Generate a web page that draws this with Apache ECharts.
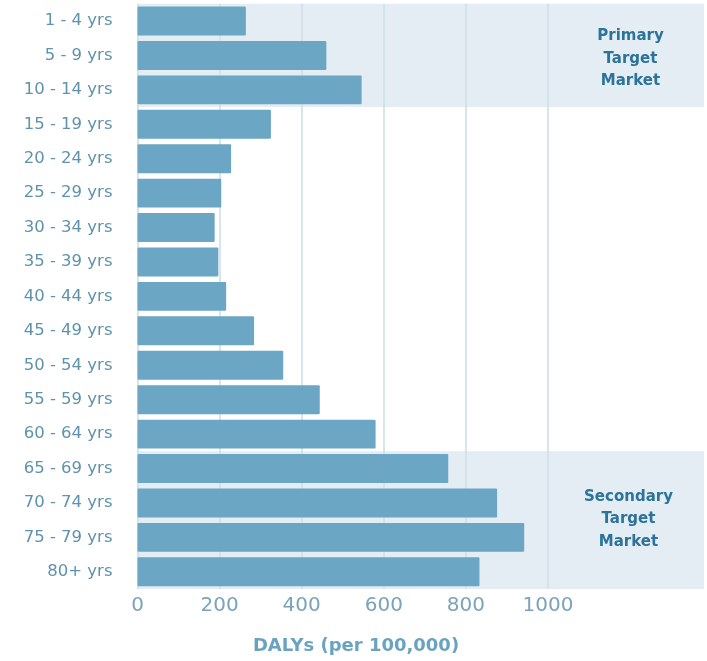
<!DOCTYPE html>
<html>
<head>
<meta charset="utf-8">
<script src="https://cdn.jsdelivr.net/npm/echarts@6/dist/echarts.min.js"></script>
<style>html,body{margin:0;padding:0;background:#fff;}#c{width:707px;height:661px;}</style>
</head>
<body>
<div id="c"></div>
<script>
const categories = ['1 - 4 yrs','5 - 9 yrs','10 - 14 yrs','15 - 19 yrs','20 - 24 yrs','25 - 29 yrs','30 - 34 yrs','35 - 39 yrs','40 - 44 yrs','45 - 49 yrs','50 - 54 yrs','55 - 59 yrs','60 - 64 yrs','65 - 69 yrs','70 - 74 yrs','75 - 79 yrs','80+ yrs'];
const dalys = [264, 460, 546, 325, 228, 204, 188, 197, 216, 284, 355, 444, 580, 757, 876, 942, 833];
const gridValues = [0, 200, 400, 600, 800, 1000];
const xMax = 1380;
// zones: [startIndex, endIndex (exclusive), label]
const primaryZone = [0, 3, 'Primary\nTarget\nMarket'];
const secondaryZone = [13, 17, 'Secondary\nTarget\nMarket'];
const titleText = 'DALYs (per 100,000)';

const chart = echarts.init(document.getElementById('c'), null, {renderer: 'canvas'});
const zoneLabel = (pos) => ({
  show: true,
  position: pos,
  align: 'center',
  verticalAlign: 'middle',
  color: '#2b7399',
  fontFamily: 'DejaVu Sans',
  fontWeight: 'bold',
  fontSize: 15,
  lineHeight: 22.5
});
chart.setOption({
  animation: false,
  title: {
    text: titleText,
    left: 351,
    top: 632,
    textAlign: 'center',
    textStyle: {color: '#6aa3c2', fontFamily: 'DejaVu Sans', fontWeight: 'bold', fontSize: 18}
  },
  grid: {left: 137.5, right: 0, top: 3.8, bottom: 72, containLabel: false},
  xAxis: {
    type: 'value', min: 0, max: xMax, interval: 200,
    axisLine: {show: false},
    axisTick: {show: false},
    splitLine: {show: false},
    axisLabel: {
      color: '#7aa4ba', fontFamily: 'DejaVu Sans', fontSize: 20, margin: 7,
      formatter: v => (v <= 1000 ? String(v) : '')
    }
  },
  yAxis: [{
    type: 'category', data: categories, inverse: true,
    axisLine: {show: false}, axisTick: {show: false},
    axisLabel: {color: '#5f93ab', fontFamily: 'DejaVu Sans', fontSize: 16.5, margin: 25}
  }, {
    type: 'value', min: 0, max: categories.length, inverse: true, show: false
  }],
  series: [{
    type: 'scatter', yAxisIndex: 1, data: [], silent: true, z: 1,
    markArea: {
      silent: true, z: 0,
      itemStyle: {color: '#e3edf3'},
      data: [
        [{xAxis: 0, yAxis: primaryZone[0], name: primaryZone[2], label: zoneLabel([493, 55])},
         {xAxis: xMax, yAxis: primaryZone[1]}],
        [{xAxis: 0, yAxis: secondaryZone[0], name: secondaryZone[2], label: zoneLabel([491, 68])},
         {xAxis: xMax, yAxis: secondaryZone[1]}]
      ]
    },
    markLine: {
      silent: true, z: 1, symbol: ['none', 'none'],
      label: {show: false},
      lineStyle: {color: '#d0dfe8', width: 1.6, type: 'solid'},
      emphasis: {disabled: true},
      data: gridValues.map(v => ({xAxis: v}))
    }
  }, {
    type: 'bar', data: dalys, z: 3,
    barCategoryGap: '16%',
    itemStyle: {color: '#6ba7c5', borderRadius: 1},
    emphasis: {disabled: true}
  }]
});
</script>
</body>
</html>
